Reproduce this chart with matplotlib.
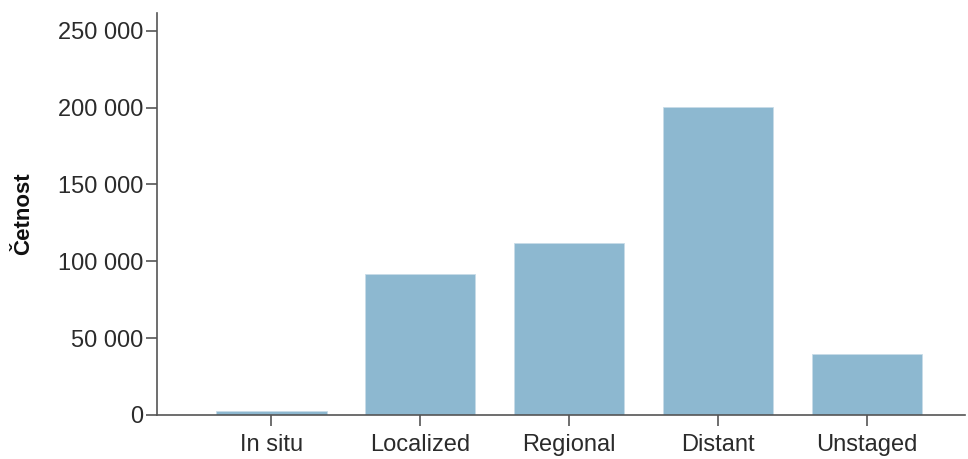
import matplotlib.pyplot as plt
from matplotlib.ticker import FuncFormatter

# values
stages = ['In situ', 'Localized', 'Regional', 'Distant', 'Unstaged']
counts = [2800, 92000, 112200, 200700, 39700]
y_ticks = [0, 50000, 100000, 150000, 200000, 250000]

plt.rcParams['font.family'] = ['Liberation Sans', 'DejaVu Sans']

fig = plt.figure(figsize=(9.68, 4.59), dpi=100)
ax = fig.add_axes([0.162, 0.096, 0.835, 0.876])

x = range(len(stages))
ax.bar(x, counts, width=0.74, color='#8db8d0', edgecolor='#c8dce8', linewidth=0.6)

ax.set_xlim(-0.77, 4.66)
ax.set_ylim(0, 261700)
ax.set_xticks(list(x))
ax.set_xticklabels(stages)
ax.set_yticks(y_ticks)
ax.yaxis.set_major_formatter(FuncFormatter(lambda v, p: f'{int(v):,}'.replace(',', ' ')))

for side in ['top', 'right']:
    ax.spines[side].set_visible(False)
for side in ['left', 'bottom']:
    ax.spines[side].set_color('#555555')
    ax.spines[side].set_linewidth(1.2)

ax.tick_params(axis='both', colors='#555555', length=8, width=1.2, labelsize=17,
               labelcolor='#2b2b2b', pad=2)
ax.tick_params(axis='x', pad=6)
ax.set_ylabel('Četnost', fontsize=16, fontweight='bold', color='#111111', labelpad=17)

fig.savefig('out.png', dpi=100)
